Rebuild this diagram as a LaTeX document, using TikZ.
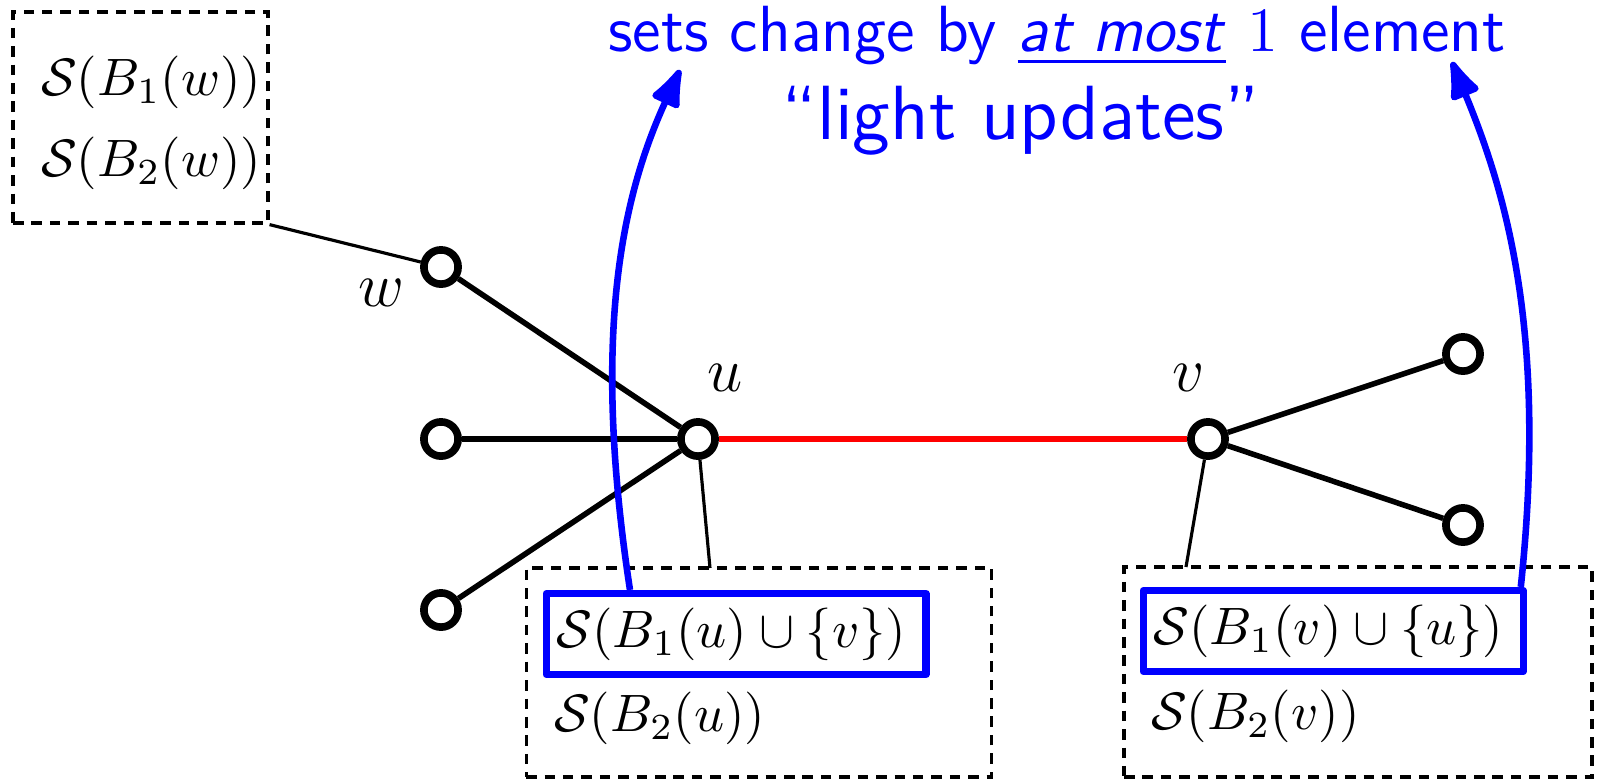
\documentclass[tikz,border=0pt]{standalone}
\usepackage{amsmath,amssymb}
\usepackage{tikz}
\usetikzlibrary{arrows.meta,calc}

\begin{document}
\begin{tikzpicture}[x=0.19pt,y=-0.19pt,
    vtx/.style={circle,draw,line width=1.45pt,minimum size=6.5pt,inner sep=0pt,fill=white},
    edge/.style={line width=1.05pt},
    setbox/.style={draw,dash pattern=on 2pt off 1.5pt,line width=0.6pt,inner sep=0pt},
    lightbox/.style={draw=blue,line width=1.35pt,line join=round,anchor=west,text width=68.2pt,inner xsep=2pt,inner ysep=0pt,minimum height=15.4pt},
    hook/.style={line width=0.6pt},
    upd/.style={blue,line width=1.25pt,-{Latex[length=9pt,width=6.5pt,round]}}]
  \useasboundingbox (0,0) rectangle (1601,780);

  % the graph
  \node[vtx] (w) at (441,267) {};
  \node[vtx] (a) at (441,439) {};
  \node[vtx] (b) at (441,610) {};
  \node[vtx] (u) at (698,439) {};
  \node[vtx] (v) at (1208,439) {};
  \node[vtx] (c) at (1463,354) {};
  \node[vtx] (d) at (1463,525) {};
  \node[font=\fontsize{12.8}{15}\selectfont] (wl) at (381,293) {$w$};
  \node[font=\fontsize{12.8}{15}\selectfont] (ul) at (725,378) {$u$};
  \node[font=\fontsize{12.8}{15}\selectfont] (vl) at (1189,378) {$v$};
  \draw[edge] (w) -- (u) (a) -- (u) (b) -- (u) (v) -- (c) (v) -- (d);
  \draw[edge,red] (u) -- (v);

  % stored sets
  \node[setbox,minimum width=48.45pt,minimum height=40.1pt] (wbox) at (140.5,117.5) {};
  \node[anchor=west,inner sep=0pt] (w1) at (40,82) {$\mathcal{S}(B_1(w))$};
  \node[anchor=west,inner sep=0pt] (w2) at (40,163) {$\mathcal{S}(B_2(w))$};
  \node[setbox,minimum width=88.5pt,minimum height=39.7pt] (ubox) at (759,672.5) {};
  \node[lightbox] (u1) at (542.5,634) {$\mathcal{S}(B_1(u)\cup\{v\})$};
  \node[anchor=west,inner sep=0pt] (u2) at (553,718) {$\mathcal{S}(B_2(u))$};
  \node[setbox,minimum width=88.9pt,minimum height=39.9pt] (vbox) at (1358,672) {};
  \node[lightbox] (v1) at (1139.5,631) {$\mathcal{S}(B_1(v)\cup\{u\})$};
  \node[anchor=west,inner sep=0pt] (v2) at (1150,716) {$\mathcal{S}(B_2(v))$};
  \coordinate (uhook) at (710,568);
  \coordinate (vhook) at (1186,567);
  \draw[hook] (wbox.south east) -- (w);
  \draw[hook] (u) -- (uhook);
  \draw[hook] (v) -- (vhook);

  % light updates
  \node[blue,font=\sffamily\fontsize{12.4}{15}\selectfont] (note) at (1057,36)
    {sets change by \underline{\textsl{at most}} $1$ element};
  \node[blue,font=\sffamily\fontsize{14.6}{17}\selectfont] (light) at (1021,121) {``light updates''};
  \coordinate (ltip) at (680,70);
  \coordinate (rtip) at (1452,62);
  \draw[upd] ($(u1.north west)!0.226!(u1.north east)$) .. controls (592,340) and (620,200) .. (ltip);
  \draw[upd] ($(v1.north west)!0.985!(v1.north east)$) .. controls (1548,330) and (1505,190) .. (rtip);
\end{tikzpicture}
\end{document}
